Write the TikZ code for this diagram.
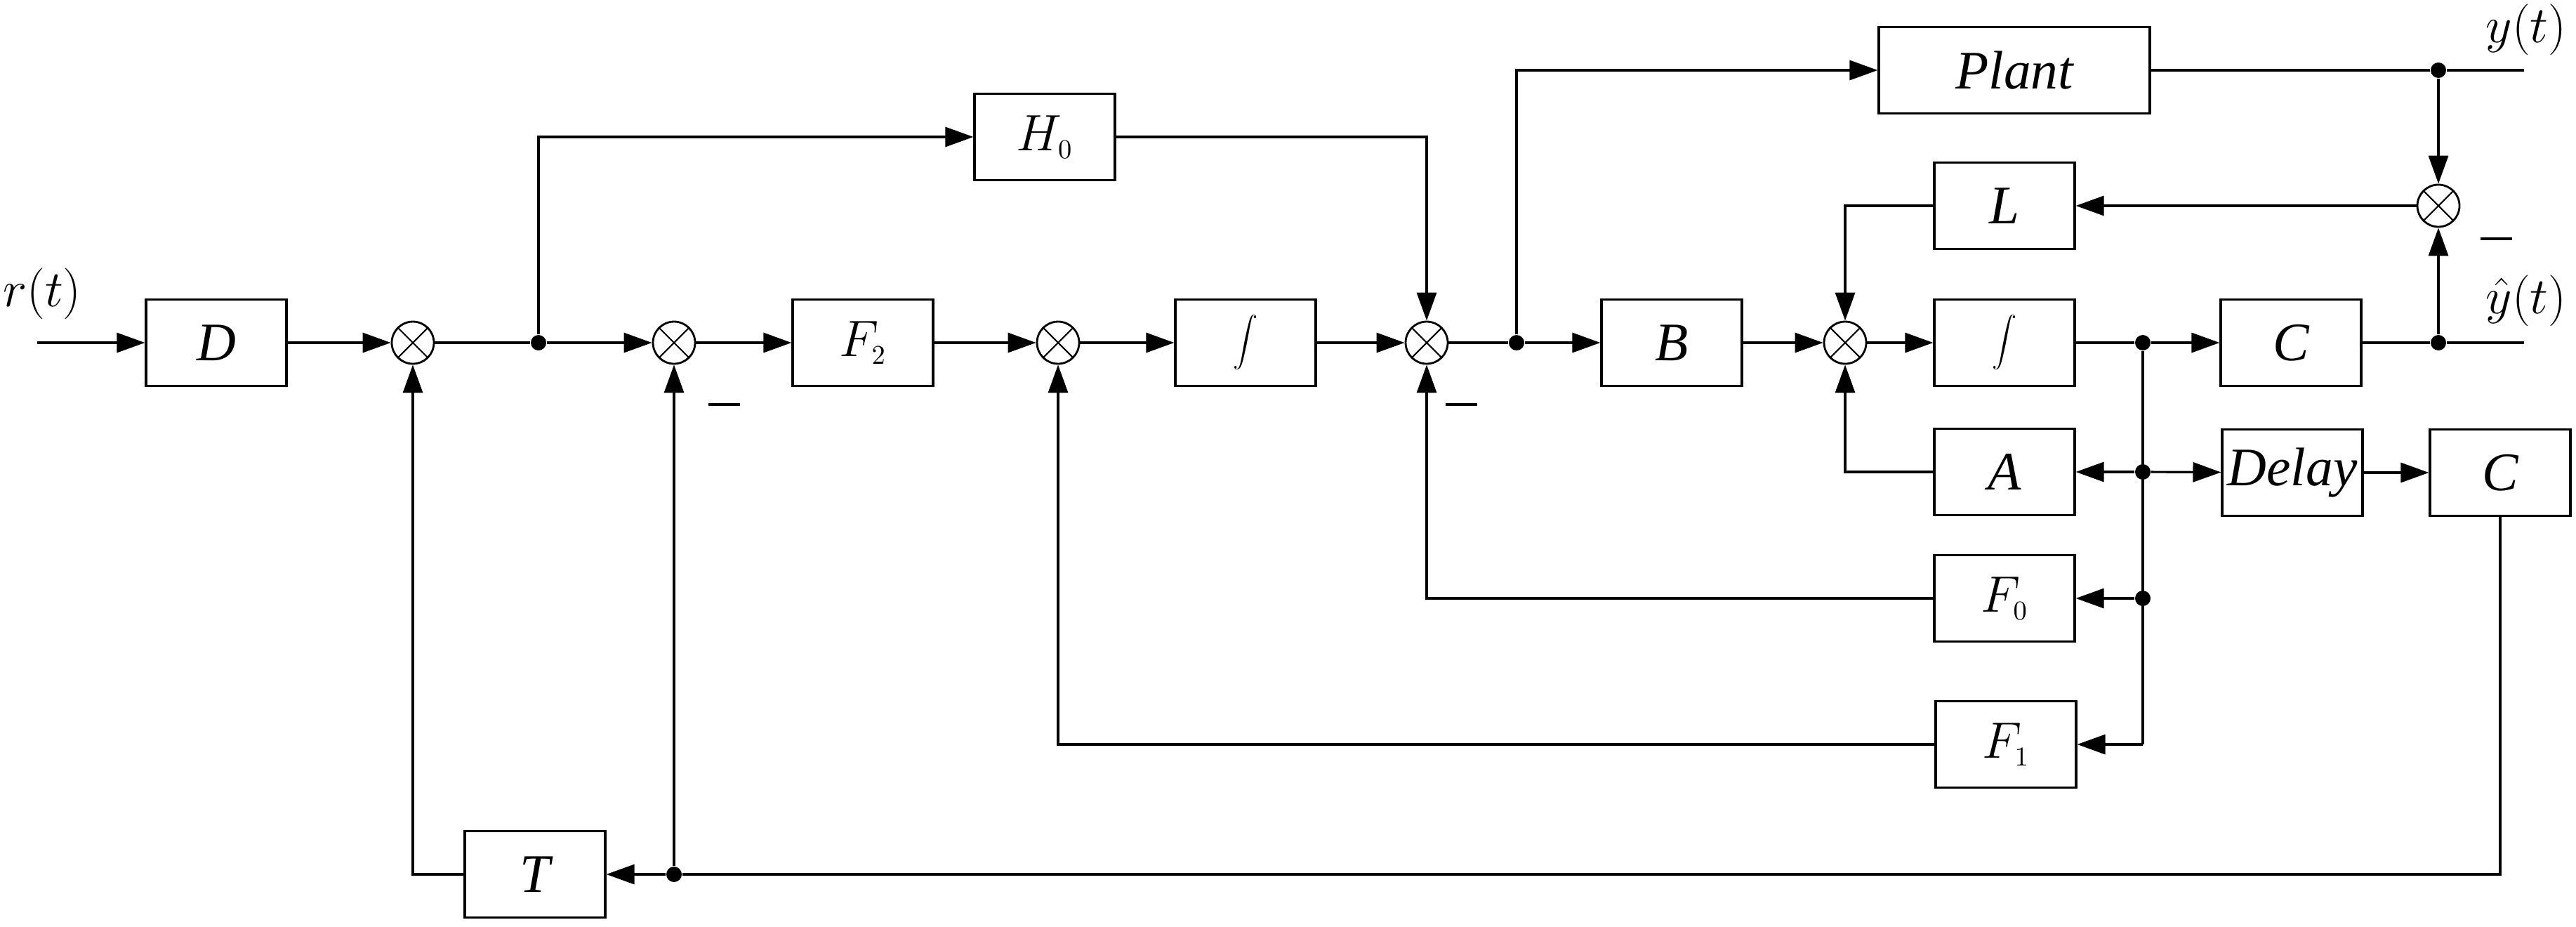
\documentclass[tikz,border=0pt]{standalone}
\usepackage{fontspec}
\setmainfont{Liberation Serif}
\usetikzlibrary{arrows.meta,shapes.geometric}
\begin{document}
\begin{tikzpicture}[
  every node/.style={font=\fontsize{22}{25}\selectfont\itshape},
  blk/.style={draw,line width=0.9pt,minimum width=2cm,minimum height=1.23cm,inner sep=0pt},
  sum/.style={draw,circle,line width=0.8pt,minimum size=0.6cm,inner sep=0pt,
    path picture={\draw[line width=0.6pt] ([shift={(0.088,-0.088)}]path picture bounding box.north west)--([shift={(-0.088,0.088)}]path picture bounding box.south east)
      ([shift={(-0.088,-0.088)}]path picture bounding box.north east)--([shift={(0.088,0.088)}]path picture bounding box.south west);}},
  dot/.style={circle,fill,inner sep=0pt,minimum size=0.22cm},
  ar/.style={line width=0.9pt,-{Triangle[length=0.4cm,width=0.28cm]}},
  ln/.style={line width=0.9pt},
  intg/.style={font=\fontsize{30}{32}\selectfont}
]
\useasboundingbox (0,0) rectangle (36.69,-13.19);
% blocks
\node[blk] (D) at (3.08,-4.88) {D};
\node[blk] (H0) at (14.88,-1.95) {$H_{\scriptscriptstyle 0}$};
\node[blk] (F2) at (12.29,-4.88) {$F_{\scriptscriptstyle 2}$};
\node[blk,intg] (I1) at (17.74,-4.88) {$\displaystyle\int$};
\node[blk] (T) at (7.62,-12.45) {T};
\node[blk,minimum width=3.86cm] (P) at (28.69,-1.00) {Plant};
\node[blk] (B) at (23.81,-4.88) {B};
\node[blk] (L) at (28.55,-2.93) {L};
\node[blk,intg] (I2) at (28.55,-4.88) {$\displaystyle\int$};
\node[blk] (C1) at (32.63,-4.88) {C};
\node[blk] (A) at (28.55,-6.72) {A};
\node[blk] (De) at (32.65,-6.73) {Delay};
\node[blk] (C2) at (35.61,-6.73) {C};
\node[blk] (F0) at (28.55,-8.52) {$F_{\scriptscriptstyle 0}$};
\node[blk] (F1) at (28.57,-10.60) {$F_{\scriptscriptstyle 1}$};
% sums
\node[sum] (s1) at (5.88,-4.88) {};
\node[sum] (s2) at (9.60,-4.88) {};
\node[sum] (s3) at (15.07,-4.88) {};
\node[sum] (s4) at (20.32,-4.88) {};
\node[sum] (s5) at (26.28,-4.88) {};
\node[sum] (s6) at (34.73,-2.93) {};
% dots and coordinates
\node[dot] (d1) at (7.67,-4.88) {};
\node[dot] (d2) at (21.60,-4.88) {};
\node[dot] (d3) at (30.52,-4.88) {};
\node[dot] (d4) at (34.73,-4.88) {};
\node[dot] (d5) at (34.73,-1.00) {};
\node[dot] (d6) at (30.52,-6.72) {};
\node[dot] (d8) at (30.52,-8.52) {};
\node[dot] (d9) at (9.60,-12.45) {};
\coordinate (d7) at (30.52,-10.60);
\coordinate (rin) at (0.53,-4.88);
\coordinate (yend) at (35.95,-1.00);
\coordinate (yhend) at (35.95,-4.88);
% main path
\draw[ar] (rin) -- (D);
\draw[ar] (D) -- (s1);
\draw[ln] (s1) -- (d1);
\draw[ar] (d1) -- (s2);
\draw[ar] (s2) -- (F2);
\draw[ar] (F2) -- (s3);
\draw[ar] (s3) -- (I1);
\draw[ar] (I1) -- (s4);
\draw[ln] (s4) -- (d2);
\draw[ar] (d2) -- (B);
\draw[ar] (B) -- (s5);
\draw[ar] (s5) -- (I2);
\draw[ln] (I2) -- (d3);
\draw[ar] (d3) -- (C1);
\draw[ln] (C1) -- (d4) -- (yhend);
% H0 path
\draw[ar] (d1) |- (H0);
\draw[ar] (H0) -| (s4);
% plant
\draw[ar] (d2) |- (P);
\draw[ln] (P) -- (d5) -- (yend);
\draw[ar] (d5) -- (s6);
\draw[ar] (d4) -- (s6);
\draw[ar] (s6) -- (L);
\draw[ar] (L) -| (s5);
\draw[ar] (A) -| (s5);
% branch
\draw[ln] (d3) -- (d7);
\draw[ar] (d6) -- (A);
\draw[ar] (d6) -- (De);
\draw[ar] (d8) -- (F0);
\draw[ar] (d7) -- (F1);
\draw[ar] (De) -- (C2);
\draw[ar] (F0) -| (s4);
\draw[ar] (F1) -| (s3);
% bottom
\draw[ar] (C2) |- (d9) -- (T);
\draw[ar] (d9) -- (s2);
\draw[ar] (T) -| (s1);
% labels
\node at (0.60,-4.18) {$r(t)$};
\node at (35.98,-0.42) {$y(t)$};
\node at (35.98,-4.28) {$\hat{y}(t)$};
\node[font=\normalfont] at (10.31,-5.76) {\rule{0.45cm}{1pt}};
\node[font=\normalfont] at (20.81,-5.76) {\rule{0.45cm}{1pt}};
\node[font=\normalfont] at (35.55,-3.40) {\rule{0.45cm}{1pt}};
\end{tikzpicture}
\end{document}
